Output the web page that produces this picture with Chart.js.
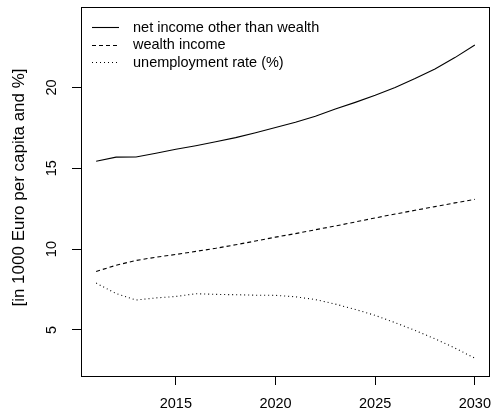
<!DOCTYPE html>
<html>
<head>
<meta charset="utf-8">
<script src="https://cdn.jsdelivr.net/npm/chart.js@4/dist/chart.umd.min.js"></script>
<style>
  html, body { margin: 0; padding: 0; background: #fff; }
  canvas { display: block; }
</style>
</head>
<body>
<canvas id="c" width="501" height="414"></canvas>
<script>
// Projection 2011-2030
const years = [2011, 2012, 2013, 2014, 2015, 2016, 2017, 2018, 2019, 2020,
               2021, 2022, 2023, 2024, 2025, 2026, 2027, 2028, 2029, 2030];
const netIncome = [15.44, 15.69, 15.70, 15.93, 16.18, 16.40, 16.64, 16.90, 17.20, 17.52,
                   17.85, 18.22, 18.67, 19.08, 19.52, 20.00, 20.55, 21.15, 21.85, 22.63];
const wealthIncome = [8.62, 9.00, 9.30, 9.50, 9.67, 9.86, 10.05, 10.27, 10.50, 10.74,
                      10.96, 11.20, 11.43, 11.68, 11.93, 12.17, 12.40, 12.63, 12.86, 13.08];
const unemploymentRate = [7.90, 7.25, 6.85, 6.98, 7.07, 7.24, 7.20, 7.18, 7.15, 7.14,
                          7.05, 6.88, 6.60, 6.27, 5.90, 5.45, 4.97, 4.45, 3.88, 3.25];
const seriesNames = ['net income other than wealth', 'wealth income', 'unemployment rate (%)'];
const xTicks = [2015, 2020, 2025, 2030];
const yTicks = [5, 10, 15, 20];
const yTitle = '[in 1000 Euro per capita and %]';

const FONT = '"Liberation Sans", Arial, Helvetica, sans-serif';
const FSIZE = 14.5;
const TITLE_SIZE = 17;

function pts(vals) { return years.map((y, i) => ({ x: y, y: vals[i] })); }

// frame around the plotting region
const boxPlugin = {
  id: 'box',
  afterDraw(chart) {
    const { ctx, chartArea: a } = chart;
    ctx.save();
    ctx.strokeStyle = '#000';
    ctx.lineWidth = 1;
    ctx.strokeRect(Math.round(a.left) + 0.5, Math.round(a.top) + 0.5,
                   Math.round(a.right - a.left) - 1, Math.round(a.bottom - a.top));
    ctx.restore();
  }
};

// vertical (rotated) y tick labels and axis title
const yLabelPlugin = {
  id: 'yLabels',
  afterDraw(chart) {
    const { ctx, chartArea: a } = chart;
    const ys = chart.scales.y;
    ctx.save();
    ctx.fillStyle = '#000';
    ctx.font = FSIZE + 'px ' + FONT;
    ctx.textAlign = 'center';
    ctx.textBaseline = 'middle';
    ys.ticks.forEach(t => {
      const py = ys.getPixelForValue(t.value);
      ctx.save();
      ctx.translate(52, py);
      ctx.rotate(-Math.PI / 2);
      ctx.fillText(String(t.value), 0, 0);
      ctx.restore();
    });
    ctx.font = TITLE_SIZE + 'px ' + FONT;
    ctx.textBaseline = 'alphabetic';
    ctx.save();
    ctx.translate(24, (a.top + a.bottom) / 2 - 4);
    ctx.rotate(-Math.PI / 2);
    ctx.fillText(yTitle, 0, 0);
    ctx.restore();
    ctx.restore();
  }
};

// legend in the top-left corner of the plot, no frame
const legendPlugin = {
  id: 'cornerLegend',
  afterDraw(chart) {
    const { ctx, chartArea: a } = chart;
    ctx.save();
    ctx.font = FSIZE + 'px ' + FONT;
    ctx.textAlign = 'left';
    ctx.textBaseline = 'middle';
    chart.data.datasets.forEach((ds, i) => {
      const cy = a.top + 20 + i * 17.6;
      ctx.strokeStyle = ds.borderColor;
      ctx.lineWidth = ds.borderWidth;
      ctx.setLineDash(ds.borderDash || []);
      ctx.beginPath();
      ctx.moveTo(a.left + 11, Math.round(cy) + 0.5);
      ctx.lineTo(a.left + 38, Math.round(cy) + 0.5);
      ctx.stroke();
      ctx.setLineDash([]);
      ctx.fillStyle = '#000';
      ctx.fillText(ds.label, a.left + 52, cy + 0.5);
    });
    ctx.restore();
  }
};

new Chart(document.getElementById('c'), {
  type: 'line',
  data: {
    datasets: [
      { label: seriesNames[0], data: pts(netIncome), borderColor: '#000', borderWidth: 1.1, borderDash: [] },
      { label: seriesNames[1], data: pts(wealthIncome), borderColor: '#000', borderWidth: 1.1, borderDash: [4, 3] },
      { label: seriesNames[2], data: pts(unemploymentRate), borderColor: '#000', borderWidth: 1.1, borderDash: [1, 3] }
    ]
  },
  options: {
    responsive: false,
    animation: false,
    devicePixelRatio: 1,
    layout: { padding: { left: 0, top: 7, right: 1, bottom: 0 } },
    elements: { point: { radius: 0 }, line: { tension: 0 } },
    plugins: { legend: { display: false }, tooltip: { enabled: false } },
    scales: {
      x: {
        type: 'linear',
        min: 2010.24,
        max: 2030.76,
        afterBuildTicks(s) { s.ticks = xTicks.map(v => ({ value: v })); },
        afterFit(s) { s.height = 38; },
        border: { display: false },
        grid: { drawOnChartArea: false, drawTicks: true, tickLength: 9, color: '#000', lineWidth: 1 },
        ticks: {
          color: '#000',
          font: { family: FONT, size: FSIZE },
          padding: 10,
          maxRotation: 0,
          autoSkip: false,
          callback: v => String(v)
        }
      },
      y: {
        type: 'linear',
        min: 2.15,
        max: 24.98,
        afterBuildTicks(s) { s.ticks = yTicks.map(v => ({ value: v })); },
        afterFit(s) { s.width = 81; },
        border: { display: false },
        grid: { drawOnChartArea: false, drawTicks: true, tickLength: 9, color: '#000', lineWidth: 1 },
        ticks: { display: false }
      }
    }
  },
  plugins: [boxPlugin, yLabelPlugin, legendPlugin]
});
</script>
</body>
</html>
